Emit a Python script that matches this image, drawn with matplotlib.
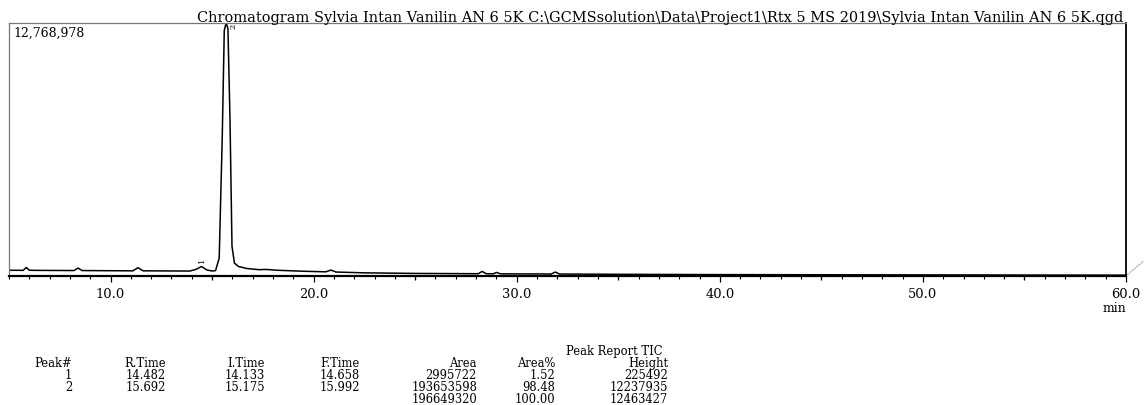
import matplotlib
matplotlib.use("Agg")
from matplotlib import pyplot as plt
from matplotlib.ticker import MultipleLocator, FixedLocator

W, H = 1144, 406
FONT = "DejaVu Serif"

TITLE = ("Chromatogram Sylvia Intan Vanilin AN 6 5K "
         "C:\\GCMSsolution\\Data\\Project1\\Rtx 5 MS 2019\\Sylvia Intan Vanilin AN 6 5K.qgd")
Y_MAX = 12768978

# TIC trace (min, counts)
rt = [5.0, 5.7, 5.85, 6.0, 6.3, 8.2, 8.4, 8.6, 11.1, 11.35, 11.6, 13.9, 14.2, 14.48,
      14.75, 15.0, 15.17, 15.35, 15.5, 15.6, 15.69, 15.78, 15.88, 15.98, 16.1, 16.3,
      16.7, 17.3, 17.7, 18.2, 19.5, 20.6, 20.85, 21.1, 22.5, 25.0, 28.1, 28.3, 28.5,
      28.85, 29.0, 29.2, 31.7, 31.9, 32.1, 35.0, 40.0, 45.0, 50.0, 55.0, 60.0]
tic = [290e3, 285e3, 430e3, 290e3, 285e3, 275e3, 400e3, 275e3, 260e3, 420e3, 262e3,
       250e3, 330e3, 480e3, 300e3, 255e3, 270e3, 900e3, 7.0e6, 12.4e6, Y_MAX, 12.5e6,
       8.0e6, 1.5e6, 650e3, 480e3, 380e3, 320e3, 330e3, 290e3, 240e3, 210e3, 300e3,
       200e3, 160e3, 130e3, 115e3, 230e3, 115e3, 110e3, 180e3, 110e3, 100e3, 200e3,
       100e3, 85e3, 70e3, 62e3, 55e3, 48e3, 42e3]

# peak report
peak_no = ["1", "2"]
r_time = ["14.482", "15.692"]
i_time = ["14.133", "15.175"]
f_time = ["14.658", "15.992"]
area = ["2995722", "193653598"]
area_pct = ["1.52", "98.48"]
height = ["225492", "12237935"]
totals = ["196649320", "100.00", "12463427"]
headers = ["Peak#", "R.Time", "I.Time", "F.Time", "Area", "Area%", "Height"]
peak_apex = [(14.48, 480e3), (15.69, Y_MAX)]


def px(x, y):
    return x / W, 1 - y / H


fig = plt.figure(figsize=(W / 100, H / 100), dpi=100)
ax = fig.add_axes([9 / W, 1 - 277 / H, (1126 - 9) / W, (277 - 24) / H])
ax.plot(rt, tic, color="black", lw=1.1)
ax.set_xlim(5, 60)
ax.set_ylim(0, Y_MAX)
ax.set_yticks([])

ax.xaxis.set_major_locator(MultipleLocator(10))
ax.xaxis.set_minor_locator(MultipleLocator(1))
ax.xaxis.set_major_formatter(lambda v, p: f"{v:.1f}")
ax.tick_params(axis="x", which="major", direction="out", length=4, width=0.9,
               pad=4, labelsize=9.4)
ax.tick_params(axis="x", which="minor", direction="out", length=2, width=0.8)
for lab in ax.get_xticklabels():
    lab.set_fontfamily(FONT)
# medium ticks every 5 min
sec = ax.secondary_xaxis("bottom")
sec.xaxis.set_major_locator(FixedLocator(list(range(15, 60, 10))))
sec.tick_params(direction="out", length=3, width=0.9, labelbottom=False)
sec.spines["bottom"].set_visible(False)

for s in ["left", "top"]:
    ax.spines[s].set_color("#777777")
    ax.spines[s].set_linewidth(0.9)
ax.spines["right"].set_linewidth(1.3)
ax.spines["bottom"].set_linewidth(1.6)

# peak numbers, drawn sideways like the instrument printout
ax.annotate(peak_no[0], xy=peak_apex[0], xytext=(0, 3), textcoords="offset points",
            rotation=90, ha="center", va="bottom", fontsize=6, family=FONT)
ax.annotate(peak_no[1], xy=peak_apex[1], xytext=(5, -2), textcoords="offset points",
            rotation=90, ha="center", va="center", fontsize=6, family=FONT,
            annotation_clip=False, clip_on=True)

# small dotted stub at the right corner
ax.plot([1.0, 1.016], [0.0, 0.06], transform=ax.transAxes, clip_on=False,
        color="#666666", lw=0.7, ls=(0, (1, 1)))

ax.text(*px(13, 33), f"{Y_MAX:,}", transform=fig.transFigure, ha="left",
        va="center", fontsize=9, family=FONT)
fig.text(*px(1126, 309), "min", ha="right", va="center", fontsize=9, family=FONT)

# title, sized to span the printout width
t = fig.text(*px(660, 18), TITLE, ha="center", va="center", fontsize=10, family=FONT)
fig.canvas.draw()
w = t.get_window_extent().width
t.set_fontsize(10 * 928 / w)

# peak table
col_x = [72, 166, 265, 360, 477, 555, 668]
rows = [peak_no, r_time, i_time, f_time, area, area_pct, height]
fs = 8.3
row_y = [375.5, 388]
fig.text(*px(663, 352), "Peak Report TIC", ha="right", va="center", fontsize=fs, family=FONT)
for x, head, col in zip(col_x, headers, rows):
    fig.text(*px(x, 363.5), head, ha="right", va="center", fontsize=fs, family=FONT)
    for y, v in zip(row_y, col):
        fig.text(*px(x, y), v, ha="right", va="center", fontsize=fs, family=FONT)
for x, v in zip(col_x[4:], totals):
    fig.text(*px(x, 399.5), v, ha="right", va="center", fontsize=fs, family=FONT)

fig.savefig("out.png", dpi=100)
